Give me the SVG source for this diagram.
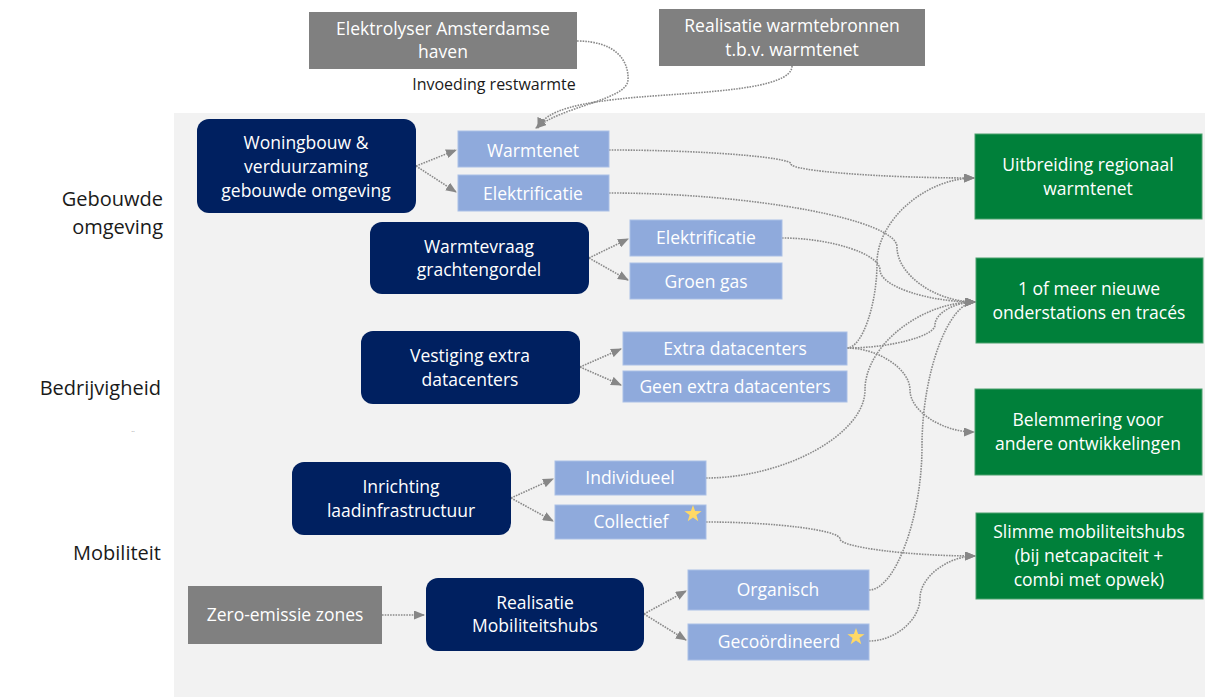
<svg xmlns="http://www.w3.org/2000/svg" width="1208" height="697" viewBox="0 0 1208 697">
<defs>
<marker id="ah" markerUnits="userSpaceOnUse" markerWidth="11" markerHeight="9" refX="10" refY="4.5" orient="auto">
<path d="M0,0 L11,4.5 L0,9 z" fill="#878787"/>
</marker>
<style>
.t{font-family:"Open Sans","Noto Sans","Liberation Sans",sans-serif;font-size:17.5px;fill:#ffffff;text-anchor:middle}
.lab{font-family:"Open Sans","Noto Sans","Liberation Sans",sans-serif;font-size:20px;fill:#1a1a1a;text-anchor:end}
.navy{fill:#002060}
.lb{fill:#8FAADC;stroke:#a9bfe6;stroke-width:1}
.gr{fill:#808080}
.gn{fill:#00803A;stroke:#4aa06c;stroke-width:1}
.c{fill:none;stroke:#8a8a8a;stroke-width:1.6;stroke-dasharray:1.6 1.1;marker-end:url(#ah)}
.star{fill:#FFD966}
</style>
</defs>
<rect x="0" y="0" width="1208" height="697" fill="#ffffff"/>
<rect x="174" y="113" width="1031" height="584" fill="#F2F2F2"/>

<g id="labels">
<text class="lab" x="163" y="206" font-size="19">Gebouwde</text>
<text class="lab" x="163" y="234" font-size="19">omgeving</text>
<text class="lab" x="161" y="395">Bedrijvigheid</text>
<text class="lab" x="161" y="560">Mobiliteit</text>
<text x="133" y="432" font-family="Open Sans, sans-serif" font-size="7" fill="#999999" text-anchor="middle">..</text>
<text x="494" y="90" font-family="Open Sans, Noto Sans, sans-serif" font-size="16" fill="#1a1a1a" text-anchor="middle">Invoeding restwarmte</text>
</g>

<g id="connectors">
<path class="c" d="M577,41 C615,41 629,60 628,80 C627,100 562,106 536,128"/>
<path class="c" d="M792,66 C792,90 700,92 640,97 C580,102 545,110 538,128"/>
<path class="c" d="M416,166 L456,150"/>
<path class="c" d="M416,166 L456,192"/>
<path class="c" d="M589,258 L628,239"/>
<path class="c" d="M589,258 L628,280"/>
<path class="c" d="M580,367 L621,349"/>
<path class="c" d="M580,367 L621,385"/>
<path class="c" d="M511,498 L553,479"/>
<path class="c" d="M511,498 L553,521"/>
<path class="c" d="M382,615 L424,615"/>
<path class="c" d="M644,614 L686,591"/>
<path class="c" d="M644,614 L686,640"/>
<path class="c" d="M609,150 C700,150 791,157 791,164 C791,171 882,178 974,178"/>
<path class="c" d="M609,193 C753,193 897,220 897,247 C897,275 936,302 975,302"/>
<path class="c" d="M782,238 C831,238 880,254 880,270 C880,286 927,302 975,302"/>
<path class="c" d="M847,348 C862,348 877,305 877,263 C877,220 926,178 974,178"/>
<path class="c" d="M847,348 C891,348 935,336 935,325 C935,313 955,302 975,302"/>
<path class="c" d="M847,348 C878,348 910,369 910,390 C910,411 942,432 974,432"/>
<path class="c" d="M706,478 C785,478 865,434 865,390 C865,346 920,302 975,302"/>
<path class="c" d="M869,590 C895,590 922,518 922,446 C922,374 948,302 975,302"/>
<path class="c" d="M706,522 C773,522 840,530 840,539 C840,547 908,556 975,556"/>
<path class="c" d="M869,641 C895,641 920,620 920,598 C920,577 948,556 975,556"/>
</g>

<g id="elektrolyser">
<rect class="gr" x="309" y="12" width="268" height="57"/>
<text class="t" x="443" y="35">Elektrolyser Amsterdamse</text>
<text class="t" x="443" y="58">haven</text>
</g>
<g id="warmtebronnen">
<rect class="gr" x="659" y="9" width="266" height="57"/>
<text class="t" x="792" y="32">Realisatie warmtebronnen</text>
<text class="t" x="792" y="56">t.b.v. warmtenet</text>
</g>

<g id="woningbouw">
<rect class="navy" x="197" y="119" width="219" height="94" rx="12"/>
<text class="t" x="306" y="149">Woningbouw &amp;</text>
<text class="t" x="306" y="173">verduurzaming</text>
<text class="t" x="306" y="197">gebouwde omgeving</text>
</g>
<g id="warmtenet">
<rect class="lb" x="458" y="131" width="151" height="36"/>
<text class="t" x="533" y="157">Warmtenet</text>
</g>
<g id="elektrificatie1">
<rect class="lb" x="458" y="175" width="151" height="36"/>
<text class="t" x="533" y="200">Elektrificatie</text>
</g>

<g id="warmtevraag">
<rect class="navy" x="370" y="222" width="219" height="72" rx="12"/>
<text class="t" x="479" y="253">Warmtevraag</text>
<text class="t" x="479" y="276">grachtengordel</text>
</g>
<g id="elektrificatie2">
<rect class="lb" x="630" y="220" width="152" height="36"/>
<text class="t" x="706" y="244">Elektrificatie</text>
</g>
<g id="groengas">
<rect class="lb" x="630" y="263" width="152" height="36"/>
<text class="t" x="706" y="288">Groen gas</text>
</g>

<g id="vestiging">
<rect class="navy" x="361" y="331" width="219" height="73" rx="12"/>
<text class="t" x="470" y="362">Vestiging extra</text>
<text class="t" x="470" y="386">datacenters</text>
</g>
<g id="extra">
<rect class="lb" x="623" y="332" width="224" height="33"/>
<text class="t" x="735" y="355">Extra datacenters</text>
</g>
<g id="geenextra">
<rect class="lb" x="623" y="371" width="224" height="31"/>
<text class="t" x="735" y="393">Geen extra datacenters</text>
</g>

<g id="inrichting">
<rect class="navy" x="292" y="462" width="219" height="73" rx="12"/>
<text class="t" x="401" y="493">Inrichting</text>
<text class="t" x="401" y="517">laadinfrastructuur</text>
</g>
<g id="individueel">
<rect class="lb" x="555" y="461" width="151" height="34"/>
<text class="t" x="630" y="484">Individueel</text>
</g>
<g id="collectief">
<rect class="lb" x="555" y="505" width="151" height="34"/>
<text class="t" x="631" y="528">Collectief</text>
<polygon class="star" points="693,505 695.1,511.1 701.6,511.2 696.4,515.1 698.3,521.3 693,517.6 687.7,521.3 689.6,515.1 684.4,511.2 690.9,511.1"/>
</g>

<g id="zeroemissie">
<rect class="gr" x="188" y="586" width="194" height="58"/>
<text class="t" x="285" y="621">Zero-emissie zones</text>
</g>
<g id="mobiliteitshubs">
<rect class="navy" x="426" y="578" width="218" height="73" rx="12"/>
<text class="t" x="535" y="609">Realisatie</text>
<text class="t" x="535" y="632">Mobiliteitshubs</text>
</g>
<g id="organisch">
<rect class="lb" x="688" y="570" width="181" height="40"/>
<text class="t" x="778" y="596">Organisch</text>
</g>
<g id="gecoordineerd">
<rect class="lb" x="688" y="624" width="181" height="36"/>
<text class="t" x="779" y="648">Gecoördineerd</text>
<polygon class="star" points="856,628 858.1,634.1 864.6,634.2 859.4,638.1 861.3,644.3 856,640.6 850.7,644.3 852.6,638.1 847.4,634.2 853.9,634.1"/>
</g>

<g id="uitbreiding">
<rect class="gn" x="975" y="134" width="227" height="85"/>
<text class="t" x="1088" y="171">Uitbreiding regionaal</text>
<text class="t" x="1088" y="195">warmtenet</text>
</g>
<g id="onderstations">
<rect class="gn" x="976" y="258" width="227" height="85"/>
<text class="t" x="1089" y="295">1 of meer nieuwe</text>
<text class="t" x="1089" y="319">onderstations en tracés</text>
</g>
<g id="belemmering">
<rect class="gn" x="975" y="389" width="227" height="86"/>
<text class="t" x="1088" y="426">Belemmering voor</text>
<text class="t" x="1088" y="450">andere ontwikkelingen</text>
</g>
<g id="slimme">
<rect class="gn" x="976" y="513" width="227" height="86"/>
<text class="t" x="1089" y="538">Slimme mobiliteitshubs</text>
<text class="t" x="1089" y="562">(bij netcapaciteit +</text>
<text class="t" x="1089" y="586">combi met opwek)</text>
</g>
</svg>
